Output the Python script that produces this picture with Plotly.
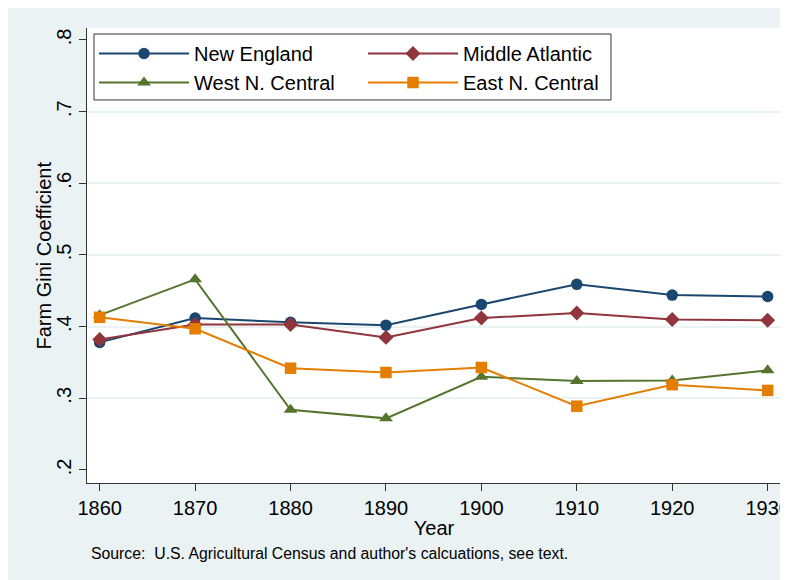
import plotly.graph_objects as go

years = [1860, 1870, 1880, 1890, 1900, 1910, 1920, 1930]
new_england = [0.378, 0.412, 0.406, 0.402, 0.431, 0.459, 0.444, 0.442]
middle_atlantic = [0.382, 0.403, 0.403, 0.385, 0.412, 0.419, 0.410, 0.409]
west_n_central = [0.416, 0.466, 0.284, 0.272, 0.330, 0.324, 0.325, 0.339]
east_n_central = [0.413, 0.397, 0.342, 0.336, 0.343, 0.289, 0.319, 0.311]

y_ticks = [0.2, 0.3, 0.4, 0.5, 0.6, 0.7, 0.8]
y_ticklabels = [".2", ".3", ".4", ".5", ".6", ".7", ".8"]
grid_vals = [0.3, 0.4, 0.5, 0.6, 0.7]

FONT = "Arial, Liberation Sans, sans-serif"
BG = "#eaf2f3"

series = [
    ("New England", new_england, "#1a476f", "circle", 11.5, "legend"),
    ("Middle Atlantic", middle_atlantic, "#90353b", "diamond", 11.5, "legend2"),
    ("West N. Central", west_n_central, "#55752f", "triangle-up", 12, "legend"),
    ("East N. Central", east_n_central, "#e37e00", "square", 11.5, "legend2"),
]

fig = go.Figure()
for name, vals, color, sym, size, lg in series:
    fig.add_trace(go.Scatter(
        x=years, y=vals, name=name, mode="lines+markers",
        line=dict(color=color, width=2),
        marker=dict(symbol=sym, size=size, color=color),
        legend=lg,
    ))

# invisible trace to anchor grid axis
fig.add_trace(go.Scatter(x=[None], y=[None], yaxis="y2", showlegend=False, hoverinfo="skip"))

yr = [0.1818, 0.8167]
legend_common = dict(
    orientation="v", yanchor="top", xanchor="left", y=0.9868,
    bgcolor="rgba(0,0,0,0)", borderwidth=0, itemwidth=90,
    font=dict(size=20), traceorder="normal", tracegroupgap=0,
)
fig.update_layout(
    width=780, height=572,
    margin=dict(l=79, r=7, t=20, b=97),
    paper_bgcolor=BG,
    plot_bgcolor="white",
    font=dict(family=FONT, size=20, color="black"),
    xaxis=dict(
        range=[1858.67, 1931.4], tickvals=years, ticks="outside", ticklen=7,
        tickcolor="#333", showline=True, linecolor="#333", linewidth=1.3,
        showgrid=False, zeroline=False, automargin=False,
        ticklabeloverflow="allow",
        title=dict(text="Year", standoff=2, font=dict(size=20)),
    ),
    yaxis=dict(
        range=yr, tickvals=y_ticks, ticktext=y_ticklabels, tickangle=-90,
        ticks="outside", ticklen=7, tickcolor="#333",
        showline=True, linecolor="#333", linewidth=1.3,
        showgrid=False, zeroline=False, automargin=False,
    ),
    yaxis2=dict(
        range=yr, overlaying="y", tickvals=grid_vals, showticklabels=False,
        ticks="", showgrid=True, gridcolor=BG, gridwidth=1.5,
        zeroline=False, showline=False, automargin=False,
    ),
    legend=dict(x=0.0101, **legend_common),
    legend2=dict(x=0.3977, **legend_common),
    showlegend=True,
    shapes=[
        dict(type="rect", xref="paper", yref="paper", x0=0.0101, x1=0.755,
             y0=0.8418, y1=0.9868, fillcolor="white",
             line=dict(width=1, color="#333"), layer="above"),
    ],
    annotations=[
        dict(text="Farm Gini Coefficient", xref="paper", yref="paper",
             x=-0.0634, y=0.5, xanchor="center", yanchor="middle",
             textangle=-90, showarrow=False, font=dict(size=20)),
        dict(text="Source:  U.S. Agricultural Census and author's calcuations, see text.",
             xref="paper", yref="paper", x=0.003, y=-0.154, xanchor="left",
             yanchor="middle", showarrow=False, font=dict(size=15.8)),
    ],
)

fig.write_html("out.html")
